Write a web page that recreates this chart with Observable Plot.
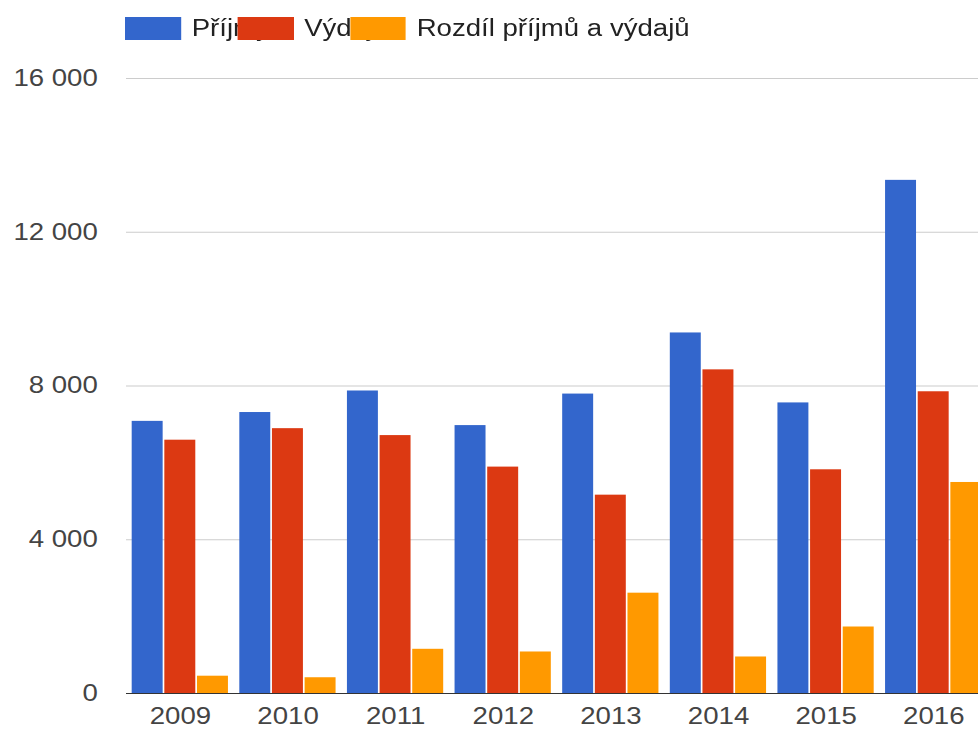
<!DOCTYPE html>
<html><head><meta charset="utf-8">
<script src="https://cdn.jsdelivr.net/npm/d3@7"></script>
<script src="https://cdn.jsdelivr.net/npm/@observablehq/plot@0.6"></script>
<style>
html,body{margin:0;background:#fff;overflow:hidden}
#wrap{width:815px;transform:scaleX(1.2);transform-origin:0 0;font-family:"Liberation Sans",Arial,sans-serif}
#legend{position:relative;height:50px}
.sw{position:absolute;top:17px;width:46.7px;height:22.6px}
.lt{position:absolute;top:17px;font-size:23px;line-height:23px;color:#222;white-space:nowrap}
</style></head><body>
<div id="wrap"><div id="legend"></div><div id="chart"></div></div>
<script>
const years = ["2009","2010","2011","2012","2013","2014","2015","2016"];
const prijmy = [7080, 7310, 7870, 6970, 7790, 9380, 7560, 13350];
const vydaje = [6590, 6890, 6710, 5890, 5160, 8420, 5820, 7850];
const rozdil = [450, 410, 1150, 1080, 2610, 950, 1730, 5490];
const seriesNames = ["Příjmy", "Výdaje", "Rozdíl příjmů a výdajů"];
const seriesColors = ["#3366cc", "#dc3912", "#ff9900"];
const yTicks = [0, 4000, 8000, 12000, 16000];

// legend (HTML, above the SVG)
const legend = document.getElementById("legend");
seriesNames.forEach((name, i) => {
  const left = 104.2 + i * 93.75;
  const sw = document.createElement("div");
  sw.className = "sw";
  sw.style.left = left + "px";
  sw.style.background = seriesColors[i];
  legend.appendChild(sw);
  const t = document.createElement("span");
  t.className = "lt";
  t.style.left = (left + 55.5) + "px";
  t.textContent = name;
  legend.appendChild(t);
});

const x0 = 105, x1 = 822.5, pInner = 0.09, pOuter = 0.045;
const step = (x1 - x0) / (years.length - pInner + 2 * pOuter);
const third = step * (1 - pInner) / 3;
const gap = 0.7;

const seriesValues = [prijmy, vydaje, rozdil];
const fmt = d => d3.format(",")(d).replace(/,/g, " ");

const barMarks = seriesValues.map((vals, i) =>
  Plot.barY(years.map((yr, j) => ({year: yr, value: vals[j]})), {
    x: "year", y: "value", fill: seriesColors[i],
    insetLeft: i * third + gap, insetRight: (2 - i) * third + gap
  })
);

const chart = Plot.plot({
  width: 815, height: 679,
  marginLeft: 105, marginRight: 0, marginTop: 28, marginBottom: 36,
  style: {fontFamily: '"Liberation Sans", Arial, sans-serif', background: "white"},
  x: {domain: years, range: [x0, x1], paddingInner: pInner, paddingOuter: pOuter, round: false},
  y: {domain: [0, 16000]},
  marks: [
    Plot.gridY(yTicks, {stroke: "#cccccc", strokeOpacity: 1}),
    Plot.axisY(yTicks, {tickSize: 0, tickPadding: 24, tickFormat: fmt, fontSize: 23, fill: "#444", label: null}),
    Plot.axisX({tickSize: 0, tickPadding: 14.5, fontSize: 23, fill: "#444", label: null}),
    ...barMarks,
    Plot.ruleY([0], {stroke: "#333"})
  ]
});
document.getElementById("chart").appendChild(chart);
</script>
</body></html>
